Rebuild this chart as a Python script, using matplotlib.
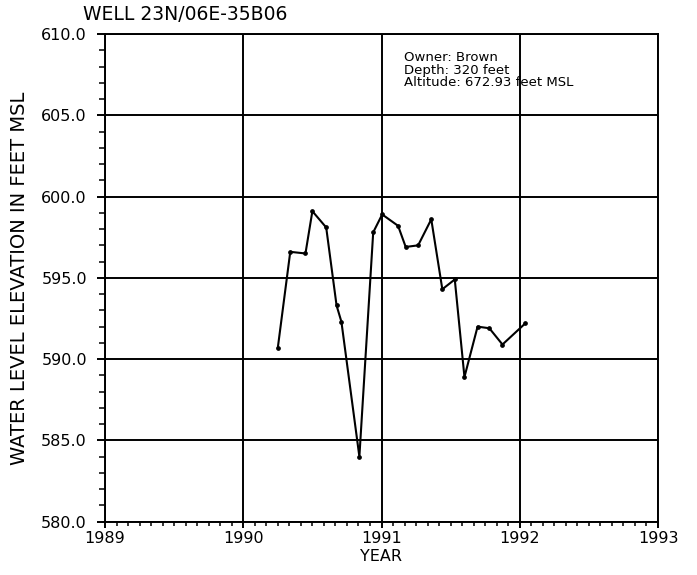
import matplotlib
matplotlib.use("Agg")
import matplotlib.pyplot as plt
from matplotlib.ticker import MultipleLocator, FormatStrFormatter

years = [1990.25, 1990.34, 1990.45, 1990.50, 1990.60, 1990.675, 1990.71,
         1990.84, 1990.94, 1991.005, 1991.12, 1991.175, 1991.265, 1991.36,
         1991.44, 1991.53, 1991.60, 1991.695, 1991.78, 1991.875, 1992.04]
levels = [590.7, 596.6, 596.5, 599.1, 598.1, 593.3, 592.3,
          584.0, 597.8, 598.9, 598.2, 596.9, 597.0, 598.6,
          594.3, 594.9, 588.9, 592.0, 591.9, 590.9, 592.2]

title = "WELL 23N/06E-35B06"
info_lines = ["Owner: Brown", "Depth: 320 feet", "Altitude: 672.93 feet MSL"]
xlabel = "YEAR"
ylabel = "WATER LEVEL ELEVATION IN FEET MSL"
x_range = (1989, 1993)
y_range = (580, 610)

fig = plt.figure(figsize=(6.97, 5.75), dpi=100)
ax = fig.add_axes([105/697, 1 - 521.7/575, (658-105)/697, (521.7-34)/575])

ax.plot(years, levels, color="black", linewidth=1.5, marker="o",
        markersize=2.4, zorder=3)

ax.set_xlim(*x_range)
ax.set_ylim(*y_range)

ax.xaxis.set_major_locator(MultipleLocator(1))
ax.xaxis.set_minor_locator(MultipleLocator(1/12))
ax.yaxis.set_major_locator(MultipleLocator(5))
ax.yaxis.set_minor_locator(MultipleLocator(1))
ax.yaxis.set_major_formatter(FormatStrFormatter("%.1f"))
ax.xaxis.set_major_formatter(FormatStrFormatter("%d"))

ax.grid(True, which="major", color="black", linewidth=1.4)
for s in ax.spines.values():
    s.set_linewidth(1.4)
    s.set_color("black")

ax.tick_params(axis="y", which="major", direction="out", length=6, width=1.4,
               pad=7, labelsize=11.5)
ax.tick_params(axis="y", which="minor", direction="out", length=4, width=1.1)
ax.tick_params(axis="x", which="major", direction="out", length=4, width=1.4,
               pad=3, labelsize=11.5)
ax.tick_params(axis="x", which="minor", direction="out", length=3, width=1.1)

ax.set_xlabel(xlabel, fontsize=11.5, labelpad=2)
ax.set_ylabel(ylabel, fontsize=14, labelpad=9)

fig.text(83/697, 1 - 14/575, title, fontsize=13.5, ha="left", va="center")

ax.text(0.54, 0.965, "\n".join(info_lines), transform=ax.transAxes,
        fontsize=9.5, ha="left", va="top", linespacing=0.95)

fig.savefig("out.png", dpi=100)
